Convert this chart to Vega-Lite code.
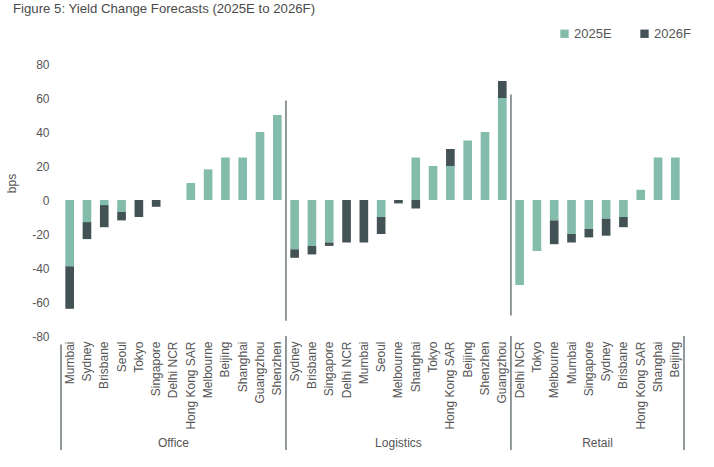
{
  "$schema": "https://vega.github.io/schema/vega-lite/v6.json",
  "width": 623,
  "height": 272,
  "autosize": {"type": "none"},
  "padding": {"left": 61, "top": 64, "right": 30, "bottom": 131},
  "background": "white",
  "config": {
    "font": "Liberation Sans",
    "view": {"stroke": null},
    "axis": {"labelColor": "#555555", "titleColor": "#555555"},
    "axisY": {"labelOverlap": false, "labelSeparation": 0, "labelBound": false, "grid": false, "domain": false, "ticks": false, "labelFontSize": 12, "labelPadding": 12}
  },
  "title": {
    "text": "Figure 5: Yield Change Forecasts (2025E to 2026F)",
    "anchor": "start",
    "frame": "group",
    "dx": -48,
    "dy": -7,
    "fontSize": 13.2,
    "fontWeight": "normal",
    "color": "#4a4a4a",
    "font": "Liberation Sans"
  },
  "datasets": {
    "bars": [
      {"cat": "Office|Mumbai", "series": "2025E", "value": -39},
      {"cat": "Office|Mumbai", "series": "2026F", "value": -25},
      {"cat": "Office|Sydney", "series": "2025E", "value": -13},
      {"cat": "Office|Sydney", "series": "2026F", "value": -10},
      {"cat": "Office|Brisbane", "series": "2025E", "value": -3},
      {"cat": "Office|Brisbane", "series": "2026F", "value": -13},
      {"cat": "Office|Seoul", "series": "2025E", "value": -7},
      {"cat": "Office|Seoul", "series": "2026F", "value": -5},
      {"cat": "Office|Tokyo", "series": "2025E", "value": 0},
      {"cat": "Office|Tokyo", "series": "2026F", "value": -10},
      {"cat": "Office|Singapore", "series": "2025E", "value": 0},
      {"cat": "Office|Singapore", "series": "2026F", "value": -4},
      {"cat": "Office|Delhi NCR", "series": "2025E", "value": 0},
      {"cat": "Office|Delhi NCR", "series": "2026F", "value": 0},
      {"cat": "Office|Hong Kong SAR", "series": "2025E", "value": 10},
      {"cat": "Office|Hong Kong SAR", "series": "2026F", "value": 0},
      {"cat": "Office|Melbourne", "series": "2025E", "value": 18},
      {"cat": "Office|Melbourne", "series": "2026F", "value": 0},
      {"cat": "Office|Beijing", "series": "2025E", "value": 25},
      {"cat": "Office|Beijing", "series": "2026F", "value": 0},
      {"cat": "Office|Shanghai", "series": "2025E", "value": 25},
      {"cat": "Office|Shanghai", "series": "2026F", "value": 0},
      {"cat": "Office|Guangzhou", "series": "2025E", "value": 40},
      {"cat": "Office|Guangzhou", "series": "2026F", "value": 0},
      {"cat": "Office|Shenzhen", "series": "2025E", "value": 50},
      {"cat": "Office|Shenzhen", "series": "2026F", "value": 0},
      {"cat": "Logistics|Sydney", "series": "2025E", "value": -29},
      {"cat": "Logistics|Sydney", "series": "2026F", "value": -5},
      {"cat": "Logistics|Brisbane", "series": "2025E", "value": -27},
      {"cat": "Logistics|Brisbane", "series": "2026F", "value": -5},
      {"cat": "Logistics|Singapore", "series": "2025E", "value": -25},
      {"cat": "Logistics|Singapore", "series": "2026F", "value": -2},
      {"cat": "Logistics|Delhi NCR", "series": "2025E", "value": 0},
      {"cat": "Logistics|Delhi NCR", "series": "2026F", "value": -25},
      {"cat": "Logistics|Mumbai", "series": "2025E", "value": 0},
      {"cat": "Logistics|Mumbai", "series": "2026F", "value": -25},
      {"cat": "Logistics|Seoul", "series": "2025E", "value": -10},
      {"cat": "Logistics|Seoul", "series": "2026F", "value": -10},
      {"cat": "Logistics|Melbourne", "series": "2025E", "value": 0},
      {"cat": "Logistics|Melbourne", "series": "2026F", "value": -2},
      {"cat": "Logistics|Shanghai", "series": "2025E", "value": 25},
      {"cat": "Logistics|Shanghai", "series": "2026F", "value": -5},
      {"cat": "Logistics|Tokyo", "series": "2025E", "value": 20},
      {"cat": "Logistics|Tokyo", "series": "2026F", "value": 0},
      {"cat": "Logistics|Hong Kong SAR", "series": "2025E", "value": 20},
      {"cat": "Logistics|Hong Kong SAR", "series": "2026F", "value": 10},
      {"cat": "Logistics|Beijing", "series": "2025E", "value": 35},
      {"cat": "Logistics|Beijing", "series": "2026F", "value": 0},
      {"cat": "Logistics|Shenzhen", "series": "2025E", "value": 40},
      {"cat": "Logistics|Shenzhen", "series": "2026F", "value": 0},
      {"cat": "Logistics|Guangzhou", "series": "2025E", "value": 60},
      {"cat": "Logistics|Guangzhou", "series": "2026F", "value": 10},
      {"cat": "Retail|Delhi NCR", "series": "2025E", "value": -50},
      {"cat": "Retail|Delhi NCR", "series": "2026F", "value": 0},
      {"cat": "Retail|Tokyo", "series": "2025E", "value": -30},
      {"cat": "Retail|Tokyo", "series": "2026F", "value": 0},
      {"cat": "Retail|Melbourne", "series": "2025E", "value": -12},
      {"cat": "Retail|Melbourne", "series": "2026F", "value": -14},
      {"cat": "Retail|Mumbai", "series": "2025E", "value": -20},
      {"cat": "Retail|Mumbai", "series": "2026F", "value": -5},
      {"cat": "Retail|Singapore", "series": "2025E", "value": -17},
      {"cat": "Retail|Singapore", "series": "2026F", "value": -5},
      {"cat": "Retail|Sydney", "series": "2025E", "value": -11},
      {"cat": "Retail|Sydney", "series": "2026F", "value": -10},
      {"cat": "Retail|Brisbane", "series": "2025E", "value": -10},
      {"cat": "Retail|Brisbane", "series": "2026F", "value": -6},
      {"cat": "Retail|Hong Kong SAR", "series": "2025E", "value": 6},
      {"cat": "Retail|Hong Kong SAR", "series": "2026F", "value": 0},
      {"cat": "Retail|Shanghai", "series": "2025E", "value": 25},
      {"cat": "Retail|Shanghai", "series": "2026F", "value": 0},
      {"cat": "Retail|Beijing", "series": "2025E", "value": 25},
      {"cat": "Retail|Beijing", "series": "2026F", "value": 0}
    ]
  },
  "layer": [
    {
      "data": {"name": "bars"},
      "mark": {"type": "bar"},
      "encoding": {
        "x": {
          "field": "cat",
          "type": "nominal",
          "scale": {
            "domain": ["Office|Mumbai","Office|Sydney","Office|Brisbane","Office|Seoul","Office|Tokyo","Office|Singapore","Office|Delhi NCR","Office|Hong Kong SAR","Office|Melbourne","Office|Beijing","Office|Shanghai","Office|Guangzhou","Office|Shenzhen","Logistics|Sydney","Logistics|Brisbane","Logistics|Singapore","Logistics|Delhi NCR","Logistics|Mumbai","Logistics|Seoul","Logistics|Melbourne","Logistics|Shanghai","Logistics|Tokyo","Logistics|Hong Kong SAR","Logistics|Beijing","Logistics|Shenzhen","Logistics|Guangzhou","Retail|Delhi NCR","Retail|Tokyo","Retail|Melbourne","Retail|Mumbai","Retail|Singapore","Retail|Sydney","Retail|Brisbane","Retail|Hong Kong SAR","Retail|Shanghai","Retail|Beijing"],
            "paddingInner": 0.5,
            "paddingOuter": 0.25
          },
          "axis": {
            "title": null,
            "orient": "bottom",
            "domain": false,
            "ticks": false,
            "labelAngle": -90,
            "labelFontSize": 12,
            "labelPadding": 5,
            "labelOverlap": false,
            "labelExpr": "split(datum.label, '|')[1]"
          }
        },
        "y": {
          "field": "value",
          "type": "quantitative",
          "scale": {"domain": [-80, 80], "nice": false},
          "axis": {
            "title": "bps",
            "titleFontSize": 12,
            "titleFontWeight": "normal",
            "titleX": -43,
            "titleY": 119,
            "values": [-80, -60, -40, -20, 0, 20, 40, 60, 80],
            "tickCount": 9,
            "labelOverlap": false,
            "labelExpr": "toString(datum.value)"
          }
        },
        "color": {
          "field": "series",
          "type": "nominal",
          "scale": {"domain": ["2025E", "2026F"], "range": ["#84bcac", "#435255"]},
          "legend": {
            "orient": "none",
            "legendX": 497,
            "legendY": -37,
            "direction": "horizontal",
            "title": null,
            "symbolType": "square",
            "symbolSize": 70,
            "symbolStrokeWidth": 0,
            "labelFontSize": 13,
            "labelColor": "#555555",
            "labelOffset": 3,
            "columnPadding": 26
          }
        },
        "order": {"field": "series", "sort": "ascending"}
      }
    },
    {
      "mark": {"type": "rule", "color": "#4a5557", "strokeWidth": 1.5},
      "encoding": {"y": {"datum": 0}}
    },
    {
      "data": {"values": [{"cat": "Office|Shenzhen"}]},
      "mark": {"type": "rule", "color": "#4a5557", "strokeWidth": 1.2},
      "encoding": {
        "x": {"field": "cat", "type": "nominal", "bandPosition": 1.5},
        "y": {"datum": 58.5},
        "y2": {"datum": -71}
      }
    },
    {
      "data": {"values": [{"cat": "Logistics|Guangzhou"}]},
      "mark": {"type": "rule", "color": "#4a5557", "strokeWidth": 1.2},
      "encoding": {
        "x": {"field": "cat", "type": "nominal", "bandPosition": 1.5},
        "y": {"datum": 62},
        "y2": {"datum": -68}
      }
    },
    {
      "data": {"values": [{"cat": "Office|Shenzhen"}, {"cat": "Logistics|Guangzhou"}, {"cat": "Retail|Beijing"}]},
      "mark": {"type": "rule", "color": "#4a5557", "strokeWidth": 1.2, "clip": false},
      "encoding": {
        "x": {"field": "cat", "type": "nominal", "bandPosition": 1.5},
        "y": {"datum": -80},
        "y2": {"datum": -147}
      }
    },
    {
      "data": {"values": [{"cat": "Office|Mumbai"}]},
      "mark": {"type": "rule", "color": "#4a5557", "strokeWidth": 1.2, "clip": false},
      "encoding": {
        "x": {"field": "cat", "type": "nominal", "bandPosition": -0.5},
        "y": {"datum": -85},
        "y2": {"datum": -147}
      }
    },
    {
      "data": {"values": [{"cat": "Office|Delhi NCR", "label": "Office"}, {"cat": "Logistics|Melbourne", "label": "Logistics"}]},
      "mark": {"type": "text", "fontSize": 12, "color": "#555555", "baseline": "middle"},
      "encoding": {
        "x": {"field": "cat", "type": "nominal", "bandPosition": 0.5},
        "y": {"datum": -143},
        "text": {"field": "label"}
      }
    },
    {
      "data": {"values": [{"cat": "Retail|Singapore", "label": "Retail"}]},
      "mark": {"type": "text", "fontSize": 12, "color": "#555555", "baseline": "middle"},
      "encoding": {
        "x": {"field": "cat", "type": "nominal", "bandPosition": 1.5},
        "y": {"datum": -143},
        "text": {"field": "label"}
      }
    }
  ]
}
